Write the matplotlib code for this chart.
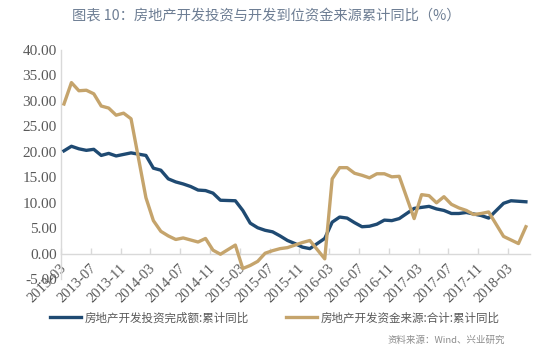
import matplotlib
matplotlib.use("Agg")
import matplotlib.pyplot as plt
import pandas as pd

# ---- data ----
months = [d.strftime("%Y-%m") for d in pd.date_range("2013-03-01", "2018-05-01", freq="MS") if d.month != 1]
invest = [20.2, 21.1, 20.6, 20.3, 20.5, 19.3, 19.7, 19.2, 19.5, 19.8,
          19.3, 16.8, 16.4, 14.7, 14.1, 13.7, 13.2, 12.5, 12.4, 11.9, 10.5,
          10.4, 8.5, 6.0, 5.1, 4.6, 4.3, 3.5, 2.6, 2.0, 1.3, 1.0,
          3.0, 6.2, 7.2, 7.0, 6.1, 5.3, 5.4, 5.8, 6.6, 6.5, 6.9,
          8.9, 9.1, 9.3, 8.8, 8.5, 7.9, 7.9, 8.1, 7.8, 7.5, 7.0,
          9.9, 10.4, 10.3, 10.2]
funds = [29.4, 33.6, 32.0, 32.1, 31.4, 29.0, 28.6, 27.2, 27.6, 26.5,
         11.0, 6.5, 4.4, 3.5, 2.8, 3.1, 2.7, 2.3, 3.0, 0.7, -0.1,
         1.7, -2.9, -2.3, -1.5, 0.1, 0.6, 1.0, 1.2, 1.7, 2.2, 2.6,
         -1.0, 14.7, 16.9, 16.9, 15.8, 15.4, 14.9, 15.7, 15.7, 15.1, 15.2,
         6.9, 11.6, 11.4, 10.0, 11.2, 9.7, 9.0, 8.5, 7.7, 7.9, 8.2,
         3.4, 2.7, 2.0, 5.3]
tick_labels = ["2013-03", "2013-07", "2013-11", "2014-03", "2014-07", "2014-11",
               "2015-03", "2015-07", "2015-11", "2016-03", "2016-07", "2016-11",
               "2017-03", "2017-07", "2017-11", "2018-03"]
series_names = ["房地产开发投资完成额:累计同比", "房地产开发资金来源:合计:累计同比"]
title = "图表 10：房地产开发投资与开发到位资金来源累计同比（%）"
source = "资料来源：Wind、兴业研究"
yticks = [-5, 0, 5, 10, 15, 20, 25, 30, 35, 40]

def midx(s):
    y, m = map(int, s.split("-"))
    return (y - 2013) * 12 + (m - 3)

x = [midx(m) for m in months]
xt = [midx(t) for t in tick_labels]

cjk = ["Noto Sans CJK SC", "DejaVu Sans"]
serif = "Liberation Serif"
blue = "#1F4A72"
gold = "#C5A46C"
gray = "#595959"
axcol = "#D9D9D9"

fig = plt.figure(figsize=(5.5, 3.58), dpi=100)
ax = fig.add_axes([61 / 550, 1 - 279.2 / 358, 469 / 550, 229.2 / 358])

for s in ["top", "right"]:
    ax.spines[s].set_visible(False)
ax.spines["bottom"].set_position(("data", 0))
ax.spines["left"].set_color(axcol)
ax.spines["bottom"].set_color(axcol)
ax.spines["left"].set_linewidth(1)
ax.spines["bottom"].set_linewidth(1)

ax.plot(x, invest, color=blue, lw=2.4, solid_joinstyle="round", label=series_names[0], zorder=3)
ax.plot(x, funds, color=gold, lw=2.4, solid_joinstyle="round", label=series_names[1], zorder=3)

ax.set_xlim(-0.4, 62.55)
ax.set_ylim(-5, 40)
ax.set_yticks(yticks, [f"{v:.2f}" for v in yticks])
ax.tick_params(axis="y", length=0, pad=3, labelsize=11, labelcolor=gray,
               labelfontfamily=serif)

ax.set_xticks(xt, tick_labels)
ax.set_xticks([v - 0.4 for v in xt], minor=True)
ax.tick_params(axis="x", which="major", length=0, pad=9, labelsize=10.5,
               labelcolor=gray, labelfontfamily=serif)
ax.tick_params(axis="x", which="minor", length=4, direction="in", color=axcol, width=1)
for lab in ax.get_xticklabels():
    lab.set_rotation(45)
    lab.set_ha("right")
    lab.set_va("center")
    lab.set_rotation_mode("anchor")

fig.text(72 / 550, 1 - 15 / 358, title, family=cjk, fontsize=10.3, color="#6E7E94",
         ha="left", va="center")

fig.legend(loc="center", bbox_to_anchor=(0.5, 1 - 318 / 358), ncol=2, frameon=False,
           prop={"family": cjk, "size": 8.3}, labelcolor=gray, handlelength=2.7,
           handletextpad=0.3, columnspacing=3.2)

fig.text(505 / 550, 1 - 340 / 358, source, family=cjk, fontsize=6.8, color="#8C8C8C",
         ha="right", va="center")

fig.savefig("out.png", dpi=100)
